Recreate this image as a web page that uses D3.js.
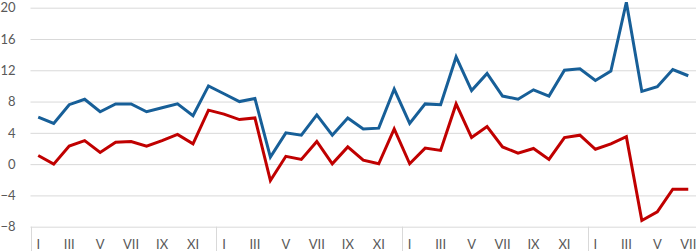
<!DOCTYPE html>
<html>
<head>
<meta charset="utf-8">
<script src="https://cdn.jsdelivr.net/npm/d3@7"></script>
<style>
  html, body { margin: 0; padding: 0; background: #fff; }
  svg { display: block; }
</style>
</head>
<body>
<svg id="chart"></svg>
<script>
const width = 696;
const height = 251;

// month labels (roman numerals) and the years shown
const months = ["I", "II", "III", "IV", "V", "VI", "VII", "VIII", "IX", "X", "XI", "XII"];
const years = ["y1", "y2", "y3", "y4"];
const monthsLastYear = 7;

const seriesBlue = [
  6.0, 5.2, 7.6, 8.3, 6.7, 7.7, 7.7, 6.7, 7.2, 7.7, 6.2, 10.0,
  9.0, 8.0, 8.4, 0.9, 4.0, 3.7, 6.3, 3.7, 5.9, 4.5, 4.6, 9.6,
  5.2, 7.7, 7.6, 13.7, 9.4, 11.6, 8.7, 8.3, 9.5, 8.7, 12.0, 12.2,
  10.7, 11.9, 20.7, 9.3, 9.9, 12.1, 11.3
];
const seriesRed = [
  1.1, 0.0, 2.3, 3.0, 1.5, 2.8, 2.9, 2.3, 3.0, 3.8, 2.6, 6.9,
  6.4, 5.7, 5.9, -2.1, 1.0, 0.6, 2.9, 0.05, 2.2, 0.5, 0.05, 4.5,
  0.05, 2.05, 1.75, 7.7, 3.4, 4.8, 2.2, 1.4, 2.0, 0.6, 3.4, 3.7,
  1.9, 2.6, 3.5, -7.2, -6.1, -3.2, -3.2
];
const yTicks = [-8, -4, 0, 4, 8, 12, 16, 20];

// build category keys year|month
const categories = [];
years.forEach((yr, i) => {
  const n = i === years.length - 1 ? monthsLastYear : months.length;
  months.slice(0, n).forEach(m => categories.push(yr + "|" + m));
});

const margin = { top: 7.7, right: 0, bottom: 24.3, left: 30.5 };
const plotBottom = height - margin.bottom;

const svg = d3.select("#chart")
  .attr("width", width)
  .attr("height", height);

const x = d3.scaleBand()
  .domain(categories)
  .range([margin.left, width])
  .padding(0);

const y = d3.scaleLinear()
  .domain([-8, 20])
  .range([plotBottom, margin.top]);

// gridlines + y labels
const yAxis = svg.append("g")
  .attr("transform", `translate(${margin.left},0)`)
  .call(d3.axisLeft(y)
    .tickValues(yTicks)
    .tickSize(-(width - margin.left))
    .tickPadding(15));

yAxis.select(".domain").remove();
yAxis.selectAll(".tick line").attr("stroke", "#d9d9d9").attr("stroke-width", 1);
yAxis.selectAll(".tick text")
  .attr("fill", "#595959")
  .style("font-family", "Lato, 'Open Sans', sans-serif")
  .style("font-size", "13px");

// x axis labels (every other month)
const xAxis = svg.append("g")
  .attr("transform", `translate(0,${plotBottom})`)
  .call(d3.axisBottom(x)
    .tickValues(categories.filter((c, i) => months.indexOf(c.split("|")[1]) % 2 === 0))
    .tickFormat(c => c.split("|")[1])
    .tickSize(0)
    .tickPadding(13));

xAxis.select(".domain").remove();
xAxis.selectAll(".tick text")
  .attr("fill", "#595959")
  .style("font-family", "Lato, 'Open Sans', sans-serif")
  .style("font-size", "13px");

// year separators
svg.append("g")
  .selectAll("line")
  .data(categories.filter(c => c.split("|")[1] === "I"))
  .enter()
  .append("line")
  .attr("x1", d => Math.round(x(d)) + 0.5)
  .attr("x2", d => Math.round(x(d)) + 0.5)
  .attr("y1", plotBottom)
  .attr("y2", height)
  .attr("stroke", "#d9d9d9")
  .attr("stroke-width", 1);

const line = d3.line()
  .x((d, i) => x(categories[i]) + x.bandwidth() / 2)
  .y(d => y(d));

svg.append("path")
  .datum(seriesBlue)
  .attr("fill", "none")
  .attr("stroke", "#175f98")
  .attr("stroke-width", 3)
  .attr("d", line);

svg.append("path")
  .datum(seriesRed)
  .attr("fill", "none")
  .attr("stroke", "#c00000")
  .attr("stroke-width", 3)
  .attr("d", line);
</script>
</body>
</html>
